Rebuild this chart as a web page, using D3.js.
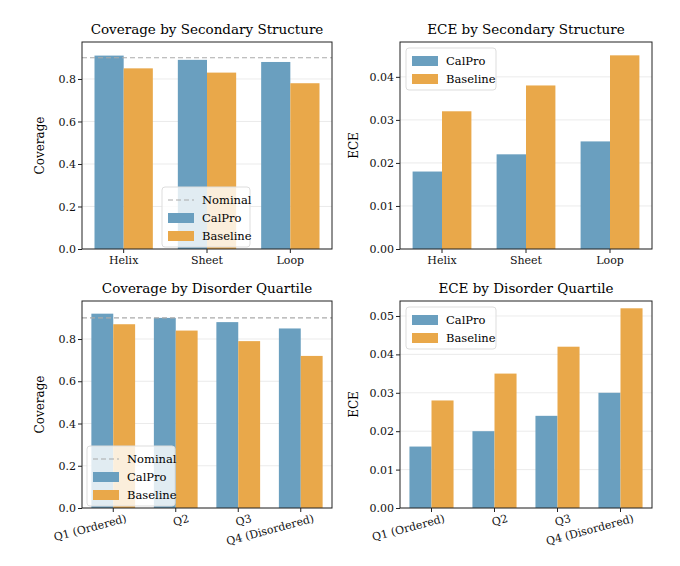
<!DOCTYPE html>
<html><head><meta charset="utf-8">
<script src="https://cdn.jsdelivr.net/npm/d3@7"></script>
<style>
body{margin:0;background:#fff;font-family:"DejaVu Serif",serif;}
text{font-family:"DejaVu Serif",serif;}
</style></head><body>
<div id="chart"></div>
<script>
// data
var ssCats = ["Helix", "Sheet", "Loop"];
var dqCats = ["Q1 (Ordered)", "Q2", "Q3", "Q4 (Disordered)"];
var covSSCal = [0.91, 0.89, 0.88];
var covSSBase = [0.85, 0.83, 0.78];
var eceSSCal = [0.018, 0.022, 0.025];
var eceSSBase = [0.032, 0.038, 0.045];
var covDQCal = [0.92, 0.90, 0.88, 0.85];
var covDQBase = [0.87, 0.84, 0.79, 0.72];
var eceDQCal = [0.016, 0.020, 0.024, 0.030];
var eceDQBase = [0.028, 0.035, 0.042, 0.052];
var nominal = 0.9;

var cCal = "#6a9fbf", cBase = "#e9a84a";

var svg = d3.select("#chart").append("svg").attr("width", 680).attr("height", 566);

function panel(opt) {
    var g = svg.append("g").attr("transform", `translate(${opt.x}, ${opt.y})`);
    var w = opt.w, h = opt.h;
    var x = d3.scaleBand().domain(opt.cats).range([0, w]).paddingInner(0.3).paddingOuter(0.15);
    var y = d3.scaleLinear().domain([0, opt.ymax]).range([h, 0]);

    // grid
    g.selectAll(".grid").data(opt.ticks).enter().append("line")
        .attr("x1", 0).attr("x2", w)
        .attr("y1", d => y(d)).attr("y2", d => y(d))
        .attr("stroke", "#e6e6e6").attr("stroke-width", 0.8);

    var bw = x.bandwidth() / 2;
    opt.cats.forEach((c, i) => {
        g.append("rect").attr("x", x(c)).attr("y", y(opt.cal[i]))
            .attr("width", bw).attr("height", h - y(opt.cal[i])).attr("fill", cCal);
        g.append("rect").attr("x", x(c) + bw).attr("y", y(opt.base[i]))
            .attr("width", bw).attr("height", h - y(opt.base[i])).attr("fill", cBase);
    });

    if (opt.nominal) {
        g.append("line").attr("x1", 0).attr("x2", w)
            .attr("y1", y(nominal)).attr("y2", y(nominal))
            .attr("stroke", "#aaa").attr("stroke-dasharray", "5,3").attr("stroke-width", 1.2);
    }

    var ya = g.append("g").call(d3.axisLeft(y).tickValues(opt.ticks).tickFormat(opt.fmt).tickSize(4));
    var xa = g.append("g").attr("transform", `translate(0, ${h})`)
        .call(d3.axisBottom(x).tickSize(4).tickSizeOuter(0));
    [ya, xa].forEach(a => { a.select(".domain").remove(); a.selectAll("text").style("font-size", "11px").attr("fill", "#111"); a.selectAll("line").attr("stroke", "#222"); });
    ya.selectAll("text").attr("x", -6);
    if (opt.rotate) {
        xa.selectAll("text").attr("text-anchor", "end")
            .attr("transform", "rotate(-15)").attr("dx", "0.9em").attr("dy", "0.9em");
    }
    g.append("rect").attr("width", w).attr("height", h).attr("fill", "none").attr("stroke", "#222").attr("stroke-width", 1);

    g.append("text").attr("x", w / 2).attr("y", -8).attr("text-anchor", "middle")
        .style("font-size", "13.5px").text(opt.title);
    g.append("text").attr("transform", "rotate(-90)").attr("x", -h / 2).attr("y", -opt.ylo)
        .attr("text-anchor", "middle").style("font-size", "12px").text(opt.ylabel);

    // legend
    var lg = g.append("g").attr("transform", `translate(${opt.lx}, ${opt.ly})`);
    var items = opt.nominal ? ["Nominal", "CalPro", "Baseline"] : ["CalPro", "Baseline"];
    lg.append("rect").attr("width", opt.nominal ? 88 : 90).attr("height", items.length * 18 + 6)
        .attr("rx", 3).attr("fill", "white").attr("fill-opacity", 0.8).attr("stroke", "#ddd");
    items.forEach((it, i) => {
        var yy = 6 + i * 18;
        if (it === "Nominal") {
            lg.append("line").attr("x1", 6).attr("x2", 32).attr("y1", yy + 7).attr("y2", yy + 7)
                .attr("stroke", "#aaa").attr("stroke-dasharray", "5,3").attr("stroke-width", 1.2);
        } else {
            lg.append("rect").attr("x", 6).attr("y", yy + 2).attr("width", 26).attr("height", 10)
                .attr("fill", it === "CalPro" ? cCal : cBase);
        }
        lg.append("text").attr("x", 40).attr("y", yy + 11).style("font-size", "11.5px").text(it);
    });
}

var f1 = d3.format(".1f"), f2 = d3.format(".2f");
panel({x: 82, y: 42, w: 250, h: 207, cats: ssCats, cal: covSSCal, base: covSSBase, ymax: 0.974,
    ticks: [0, 0.2, 0.4, 0.6, 0.8], fmt: f1, title: "Coverage by Secondary Structure", ylabel: "Coverage",
    ylo: 38, nominal: true, lx: 80, ly: 145});
panel({x: 400, y: 42, w: 252, h: 207, cats: ssCats, cal: eceSSCal, base: eceSSBase, ymax: 0.0481,
    ticks: [0, 0.01, 0.02, 0.03, 0.04], fmt: f2, title: "ECE by Secondary Structure", ylabel: "ECE",
    ylo: 42, nominal: false, lx: 6, ly: 6});
panel({x: 82, y: 301, w: 250, h: 207, cats: dqCats, cal: covDQCal, base: covDQBase, ymax: 0.98,
    ticks: [0, 0.2, 0.4, 0.6, 0.8], fmt: f1, title: "Coverage by Disorder Quartile", ylabel: "Coverage",
    ylo: 38, nominal: true, rotate: true, lx: 5, ly: 145});
panel({x: 400, y: 301, w: 252, h: 207, cats: dqCats, cal: eceDQCal, base: eceDQBase, ymax: 0.0539,
    ticks: [0, 0.01, 0.02, 0.03, 0.04, 0.05], fmt: f2, title: "ECE by Disorder Quartile", ylabel: "ECE",
    ylo: 42, nominal: false, rotate: true, lx: 6, ly: 6});
</script></body></html>
